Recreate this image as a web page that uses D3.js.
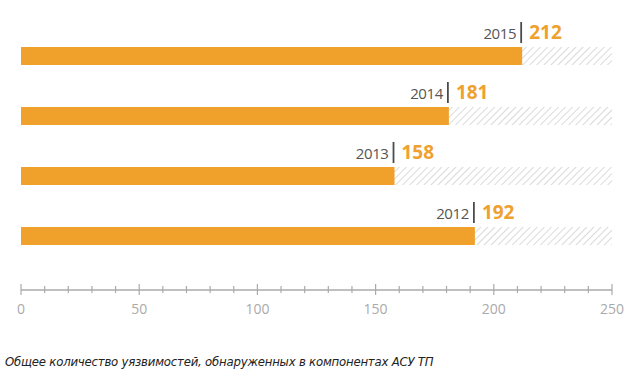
<!DOCTYPE html>
<html>
<head>
<meta charset="utf-8">
<script src="https://cdn.jsdelivr.net/npm/d3@7"></script>
<style>
  body { margin: 0; background: #fff; }
</style>
</head>
<body>
<div id="chart"></div>
<script>
// chart data
var years = ["2015", "2014", "2013", "2012"];
var counts = [212, 181, 158, 192];
var majorTicks = [0, 50, 100, 150, 200, 250];
var caption = "Общее количество уязвимостей, обнаруженных в компонентах АСУ ТП";

var width = 633, height = 379;
var margin = {left: 21, right: 21};

var svg = d3.select("#chart").append("svg")
    .attr("width", width)
    .attr("height", height);

// hatch pattern for the remainder of the bar
var defs = svg.append("defs");
var pat = defs.append("pattern")
    .attr("id", "hatch")
    .attr("patternUnits", "userSpaceOnUse")
    .attr("width", 5)
    .attr("height", 5)
    .attr("patternTransform", "rotate(45)");
pat.append("rect").attr("width", 5).attr("height", 5).attr("fill", "#fff");
pat.append("line")
    .attr("x1", 0).attr("y1", 0).attr("x2", 0).attr("y2", 5)
    .attr("stroke", "#dadada")
    .attr("stroke-width", 2);

var x = d3.scaleLinear().domain([0, 250]).range([margin.left, width - margin.right]);
var y = d3.scaleBand().domain(years).range([26, 266]).paddingInner(0.7).paddingOuter(0.35);

var rows = svg.selectAll("g.row")
    .data(years)
    .enter().append("g")
    .attr("class", "row");

// background hatched track
rows.append("rect")
    .attr("x", x(0))
    .attr("y", function(d) { return y(d); })
    .attr("width", x(250) - x(0))
    .attr("height", y.bandwidth())
    .attr("fill", "url(#hatch)");

// orange bars
rows.append("rect")
    .attr("x", x(0))
    .attr("y", function(d) { return y(d); })
    .attr("width", function(d, i) { return x(counts[i]) - x(0); })
    .attr("height", y.bandwidth())
    .attr("fill", "#f0a12c");

// separator line above bar end
rows.append("line")
    .attr("x1", function(d, i) { return x(counts[i]) - 1; })
    .attr("x2", function(d, i) { return x(counts[i]) - 1; })
    .attr("y1", function(d) { return y(d) - 25; })
    .attr("y2", function(d) { return y(d) - 4; })
    .attr("stroke", "#4a4a4a")
    .attr("stroke-width", 1.8);

// year label
rows.append("text")
    .attr("x", function(d, i) { return x(counts[i]) - 6; })
    .attr("y", function(d) { return y(d) - 8; })
    .attr("text-anchor", "end")
    .attr("font-family", "Open Sans, sans-serif")
    .attr("font-size", 15)
    .attr("letter-spacing", -0.4)
    .attr("fill", "#555")
    .text(function(d) { return d; });

// value label
rows.append("text")
    .attr("x", function(d, i) { return x(counts[i]) + 7; })
    .attr("y", function(d) { return y(d) - 8; })
    .attr("font-family", "Open Sans, sans-serif")
    .attr("font-size", 19)
    .attr("font-weight", "bold")
    .attr("fill", "#eea12e")
    .text(function(d, i) { return counts[i]; });

// axis
var axisY = 290;
var axisG = svg.append("g").attr("transform", "translate(0," + axisY + ")");

axisG.append("line")
    .attr("x1", x(0)).attr("x2", x(250))
    .attr("stroke", "#aaa").attr("stroke-width", 1.3);

axisG.selectAll("line.minor")
    .data(d3.range(0, 251, 10))
    .enter().append("line")
    .attr("class", "minor")
    .attr("x1", function(d) { return x(d); })
    .attr("x2", function(d) { return x(d); })
    .attr("y1", function(d) { return d % 50 === 0 ? -6 : -4; })
    .attr("y2", function(d) { return d % 50 === 0 ? 5 : 3; })
    .attr("stroke", "#aaa").attr("stroke-width", 1.2);

axisG.selectAll("text")
    .data(majorTicks)
    .enter().append("text")
    .attr("x", function(d) { return x(d); })
    .attr("y", 24)
    .attr("text-anchor", "middle")
    .attr("font-family", "Open Sans, sans-serif")
    .attr("font-size", 14)
    .attr("fill", "#aaa")
    .text(function(d) { return d; });

// caption
svg.append("text")
    .attr("x", 5)
    .attr("y", 366)
    .attr("font-family", "DejaVu Sans Condensed, DejaVu Sans, sans-serif")
    .attr("font-style", "italic")
    .attr("font-size", 13)
    .attr("letter-spacing", -0.2)
    .attr("fill", "#222")
    .text(caption);
</script>
</body>
</html>
